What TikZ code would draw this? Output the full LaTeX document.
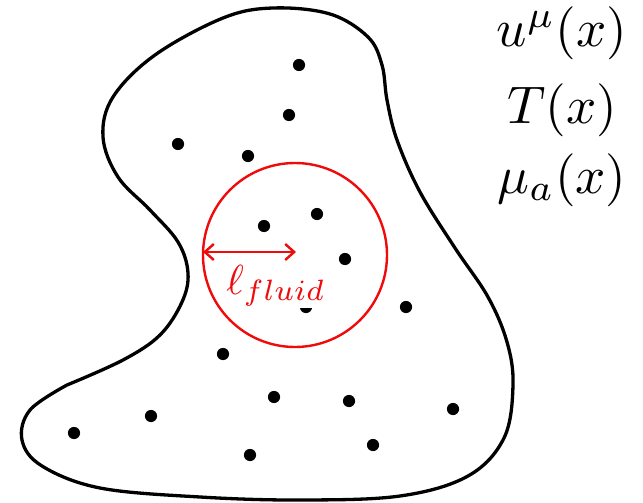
\documentclass[tikz,border=0pt]{standalone}
\usetikzlibrary{arrows.meta}
\definecolor{myred}{RGB}{240,10,10}
\begin{document}
\begin{tikzpicture}[x=1pt,y=-1pt,
  blob/.style={line width=3.3pt,black},
  particle/.style={black},
  probe/.style={myred,line width=2.4pt},
  fieldlabel/.style={anchor=base,inner sep=0pt,scale=5.3},
  lenlabel/.style={myred,fill=white,inner sep=0.3pt,scale=4.2}]
\useasboundingbox (0,0) rectangle (643,503);
% blob outline
\draw[blob] plot[smooth,tension=0.6] coordinates {
 (67,385) (123,360) (160,335) (182,302) (188,273) (178,242) (150,210)
 (118,177) (103,137) (113,97) (155,55) (223,18) (273,8) (330,14) (368,37)
 (382,65) (387,100) (397,140) (420,192) (455,248) (488,297) (507,342)
 (513,385) (504,438) (468,476) (400,496) (300,500) (200,497) (100,488)
 (42,466) (22,440) (30,410) (67,385)};
% particles
\foreach \p in {(299,65),(289,115),(178,144),(248,156),(317,214),(264,226),
  (345,259),(406,307),(306,307),(223,354),(274,397),(349,401),(453,409),
  (151,416),(74,433),(373,445),(250,455)}
  \fill[particle] \p circle (6.1);
% probe circle
\draw[probe] (295,255) circle (92);
\coordinate (lft) at (203,252);
\coordinate (rgt) at (296,252);
\draw[probe,{Straight Barb[length=9pt,width=16pt]}-{Straight Barb[length=9pt,width=16pt]}] (lft) -- (rgt);
\node[lenlabel] (len) at (276,286) {$\ell_{fluid}$};
% field labels
\node[fieldlabel] (u) at (562,47) {$u^\mu(x)$};
\node[fieldlabel] (T) at (562,124) {$T(x)$};
\node[fieldlabel] (mu) at (562,193) {$\mu_a(x)$};
\end{tikzpicture}
\end{document}
